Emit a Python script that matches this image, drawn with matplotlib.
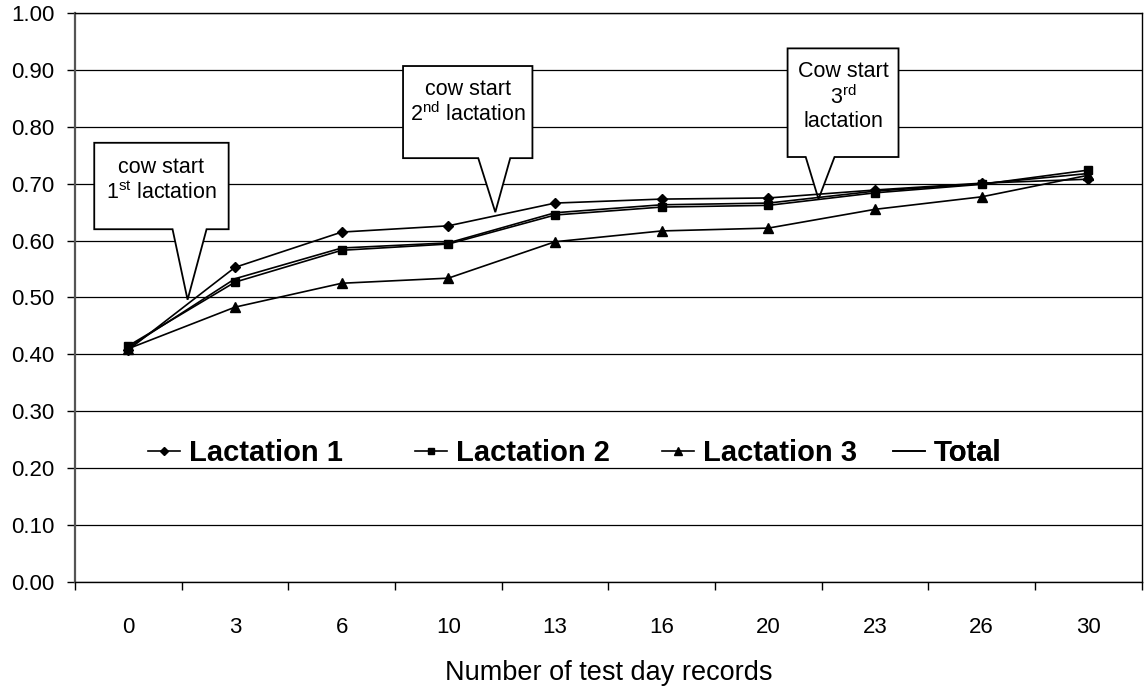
import matplotlib
matplotlib.use("Agg")
import matplotlib.pyplot as plt
from matplotlib.patches import Polygon

plt.rcParams['font.family'] = ['Liberation Sans', 'DejaVu Sans']
plt.rcParams['mathtext.fontset'] = 'custom'
plt.rcParams['mathtext.rm'] = 'Liberation Sans'

# datos
registros = ['0', '3', '6', '10', '13', '16', '20', '23', '26', '30']
lactacion1 = [0.408, 0.553, 0.615, 0.626, 0.666, 0.673, 0.675, 0.689, 0.701, 0.708]
lactacion2 = [0.415, 0.527, 0.583, 0.594, 0.645, 0.659, 0.662, 0.684, 0.699, 0.724]
lactacion3 = [0.410, 0.483, 0.525, 0.534, 0.598, 0.617, 0.622, 0.655, 0.677, 0.715]
total = [0.412, 0.533, 0.587, 0.596, 0.649, 0.663, 0.666, 0.687, 0.700, 0.718]

x = list(range(len(registros)))

fig = plt.figure(figsize=(11.44, 6.91), dpi=100)
ax = fig.add_axes([0.0656, 0.158, 0.9324, 0.823])

l1, = ax.plot(x, lactacion1, color='black', lw=1.2, marker='D', ms=5.5, label='Lactation 1', zorder=4)
l2, = ax.plot(x, lactacion2, color='black', lw=1.2, marker='s', ms=5.5, label='Lactation 2', zorder=4)
l3, = ax.plot(x, lactacion3, color='black', lw=1.2, marker='^', ms=7, label='Lactation 3', zorder=4)
lt, = ax.plot(x, total, color='black', lw=1.2, label='Total', zorder=4)

ax.set_xlim(-0.5, len(registros) - 0.5)
ax.set_ylim(0, 1)
ax.set_yticks([i / 10 for i in range(11)])
ax.set_yticklabels(['%.2f' % (i / 10) for i in range(11)])
ax.grid(axis='y', color='black', lw=0.9)
ax.set_axisbelow(True)

ax.set_xticks(x)
ax.set_xticklabels(registros)
ax.set_xticks([i - 0.5 for i in range(len(registros) + 1)], minor=True)
ax.tick_params(axis='x', which='major', length=0, pad=25, labelsize=16)
ax.tick_params(axis='x', which='minor', length=6, width=1, direction='out')
ax.tick_params(axis='y', length=6, width=1, direction='out', pad=9, labelsize=16)

for s in ax.spines.values():
    s.set_linewidth(1)
ax.spines['left'].set_color('#555555')
ax.spines['left'].set_linewidth(1.6)

ax.set_xlabel('Number of test day records', fontsize=19.5, labelpad=16)

# leyenda (una entrada por bloque, como en el original)
for linea, xpos in zip([l1, l2, l3, lt], [0.0684, 0.3186, 0.5501, 0.7666]):
    leg = ax.legend(handles=[linea], loc='center left', bbox_to_anchor=(xpos, 0.226),
                    frameon=False, prop={'weight': 'bold', 'size': 21},
                    handlelength=1.1, handletextpad=0.3, borderpad=0,
                    borderaxespad=0, markerscale=0.8)
    ax.add_artist(leg)


# globos de texto
def globo(x0, x1, y0, y1, b0, b1, tx, ty, texto, cx, cy):
    pts = [(x0, y1), (x1, y1), (x1, y0), (b1, y0), (tx, ty), (b0, y0), (x0, y0)]
    ax.add_patch(Polygon(pts, closed=True, facecolor='white', edgecolor='black',
                         lw=1.3, zorder=3))
    ax.text(cx, cy, texto, ha='center', va='center', fontsize=15.5,
            linespacing=1.15, zorder=5)


globo(-0.32, 0.94, 0.620, 0.772, 0.414, 0.733, 0.555, 0.496,
      'cow start\n1$^{\\mathrm{st}}$ lactation', 0.31, 0.706)
globo(2.575, 3.788, 0.745, 0.907, 3.28, 3.58, 3.44, 0.650,
      'cow start\n2$^{\\mathrm{nd}}$ lactation', 3.18, 0.843)
globo(6.18, 7.22, 0.747, 0.938, 6.35, 6.62, 6.47, 0.673,
      'Cow start\n3$^{\\mathrm{rd}}$\nlactation', 6.70, 0.853)

fig.savefig('out.png', dpi=100)
